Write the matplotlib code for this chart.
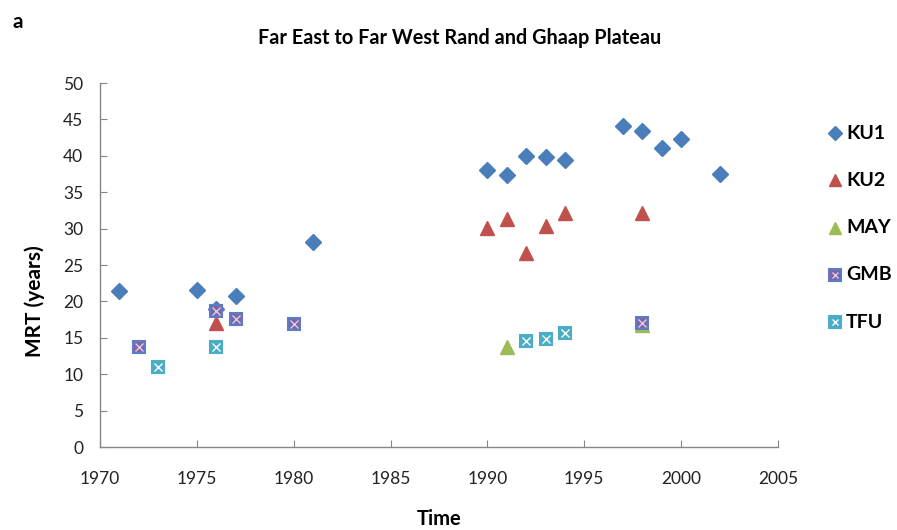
import matplotlib
matplotlib.use("Agg")
import matplotlib.pyplot as plt
from matplotlib.lines import Line2D

plt.rcParams['font.family'] = ['Lato', 'DejaVu Sans']

# MRT estimates per aquifer group
ku1_year = [1971, 1975, 1976, 1977, 1981, 1990, 1991, 1992, 1993, 1994, 1997, 1998, 1999, 2000, 2002]
ku1_mrt = [21.4, 21.5, 18.9, 20.8, 28.1, 38.0, 37.4, 40.0, 39.8, 39.4, 44.1, 43.4, 41.1, 42.3, 37.5]

ku2_year = [1976, 1990, 1991, 1992, 1993, 1994, 1998]
ku2_mrt = [17.1, 30.1, 31.3, 26.6, 30.4, 32.1, 32.1]

may_year = [1991, 1998]
may_mrt = [13.8, 16.7]

gmb_year = [1972, 1976, 1977, 1980, 1998]
gmb_mrt = [13.7, 18.7, 17.6, 16.9, 17.1]

tfu_year = [1973, 1976, 1992, 1993, 1994]
tfu_mrt = [11.0, 13.7, 14.5, 14.8, 15.7]

x_ticks = [1970, 1975, 1980, 1985, 1990, 1995, 2000, 2005]
y_ticks = [0, 5, 10, 15, 20, 25, 30, 35, 40, 45, 50]

c_ku1 = '#4A7EBB'
c_ku2 = '#C0504D'
c_may = '#9BBB59'
c_gmb = '#8064A2'
c_tfu = '#4BACC6'
gmb_edge = '#5B7DC8'
gmb_cross = '#D9CDEA'
tfu_cross = '#FFFFFF'
axis_grey = '#868686'

W, H = 897, 530
fig = plt.figure(figsize=(W / 100, H / 100), dpi=100)
ax = fig.add_axes([100 / W, 1 - 447 / H, 678 / W, 364 / H])

ax.plot(ku1_year, ku1_mrt, 'D', ms=8, color=c_ku1, mec=c_ku1, ls='none', zorder=3)
ax.plot(ku2_year, ku2_mrt, '^', ms=10, color=c_ku2, mec=c_ku2, ls='none', zorder=3)
ax.plot(may_year, may_mrt, '^', ms=10, color=c_may, mec=c_may, ls='none', zorder=3)


def boxed_x(xs, ys, face, edge, cross):
    ax.plot(xs, ys, 's', ms=9, mfc=face, mec=edge, mew=1.5, ls='none', zorder=4)
    ax.plot(xs, ys, 'x', ms=6, mec=cross, mew=1.0, ls='none', zorder=5)


boxed_x(gmb_year, gmb_mrt, c_gmb, gmb_edge, gmb_cross)
boxed_x(tfu_year, tfu_mrt, c_tfu, c_tfu, tfu_cross)

ax.set_xlim(1970, 2005)
ax.set_ylim(0, 50)
ax.set_xticks(x_ticks)
ax.set_yticks(y_ticks)
ax.tick_params(axis='both', labelsize=12.5, color=axis_grey, length=5, direction='in',
               labelcolor='#222222')
ax.tick_params(axis='x', pad=17)
ax.tick_params(axis='y', pad=12)
for side in ('top', 'right'):
    ax.spines[side].set_visible(False)
for side in ('left', 'bottom'):
    ax.spines[side].set_color(axis_grey)
    ax.spines[side].set_linewidth(1.0)

ax.set_xlabel('Time', fontsize=14.5, fontweight='bold')
ax.set_ylabel('MRT (years)', fontsize=15, fontweight='bold')
ax.xaxis.set_label_coords(0.5, (447 - 519) / 364, transform=ax.transAxes)
ax.yaxis.set_label_coords((35 - 100) / 678, (447 - 301) / 364, transform=ax.transAxes)
ax.xaxis.label.set_va('center')
ax.yaxis.label.set_va('center')

fig.text(460 / W, 1 - 38 / H, 'Far East to Far West Rand and Ghaap Plateau', ha='center',
         va='center', fontsize=14.3, fontweight='bold')
fig.text(12 / W, 1 - 22 / H, 'a', ha='left', va='center', fontsize=15, fontweight='bold')

# legend, drawn as marker + label rows to the right of the plot
legend_rows = [
    ('KU1', [dict(marker='D', ms=7, color=c_ku1)]),
    ('KU2', [dict(marker='^', ms=9, color=c_ku2)]),
    ('MAY', [dict(marker='^', ms=9, color=c_may)]),
    ('GMB', [dict(marker='s', ms=8, mfc=c_gmb, mec=gmb_edge, mew=1.5),
             dict(marker='x', ms=5, mec=gmb_cross, mew=1.0)]),
    ('TFU', [dict(marker='s', ms=8, mfc=c_tfu, mec=c_tfu, mew=1.5),
             dict(marker='x', ms=5, mec=tfu_cross, mew=1.0)]),
]
row_y0, row_step = 133, 47.3
for i, (label, styles) in enumerate(legend_rows):
    yy = 1 - (row_y0 + i * row_step) / H
    for st in styles:
        fig.add_artist(Line2D([835 / W], [yy], ls='none', transform=fig.transFigure, **st))
    fig.text(846 / W, yy, label, ha='left', va='center', fontsize=14, fontweight='bold')

fig.savefig('out.png', dpi=100)
